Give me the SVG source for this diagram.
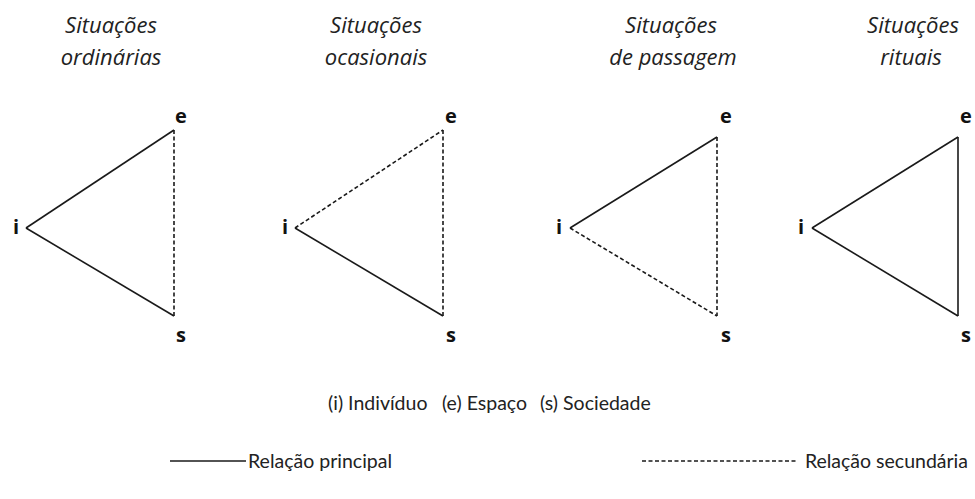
<svg xmlns="http://www.w3.org/2000/svg" width="975" height="499" viewBox="0 0 975 499">
<style>
.title{font-family:"Open Sans","Liberation Sans",sans-serif;font-style:italic;font-size:22px;fill:#222;text-anchor:middle}
.v{font-family:"Open Sans","Liberation Sans",sans-serif;font-weight:bold;font-size:20px;fill:#111;text-anchor:middle}
.leg{font-family:Lato,"Open Sans","Liberation Sans",sans-serif;font-size:19.5px;fill:#222}
.solid{stroke:#1a1a1a;stroke-width:1.6;fill:none}
.dash{stroke:#1a1a1a;stroke-width:1.6;fill:none;stroke-dasharray:4 2.5}
</style>
<rect width="975" height="499" fill="#fff"/>
<g id="titles">
<text class="title" x="111" y="33">Situações</text><text class="title" x="111" y="65">ordinárias</text>
<text class="title" x="376" y="33">Situações</text><text class="title" x="376" y="65">ocasionais</text>
<text class="title" x="671" y="33">Situações</text><text class="title" x="673" y="65">de passagem</text>
<text class="title" x="913" y="33">Situações</text><text class="title" x="911" y="65">rituais</text>
</g>
<g id="node-labels">
<g id="t1-labels"><text class="v" x="16" y="234">i</text><text class="v" x="181" y="123">e</text><text class="v" x="181" y="342">s</text></g>
<g id="t2-labels"><text class="v" x="285" y="234">i</text><text class="v" x="451" y="123">e</text><text class="v" x="451" y="342">s</text></g>
<g id="t3-labels"><text class="v" x="559" y="234">i</text><text class="v" x="726" y="123">e</text><text class="v" x="726" y="342">s</text></g>
<g id="t4-labels"><text class="v" x="801" y="234">i</text><text class="v" x="966" y="123">e</text><text class="v" x="966" y="342">s</text></g>
</g>
<g id="connectors">
<line class="solid" x1="26" y1="228" x2="174" y2="130"/>
<line class="solid" x1="26" y1="228" x2="174" y2="316"/>
<line class="dash" x1="174" y1="130" x2="174" y2="316"/>
<line class="dash" x1="295" y1="228" x2="443" y2="130"/>
<line class="solid" x1="295" y1="228" x2="443" y2="316"/>
<line class="dash" x1="443" y1="130" x2="443" y2="316"/>
<line class="solid" x1="570" y1="228" x2="717" y2="137"/>
<line class="dash" x1="570" y1="228" x2="717" y2="316"/>
<line class="dash" x1="717" y1="137" x2="717" y2="316"/>
<line class="solid" x1="812" y1="228" x2="958" y2="137"/>
<line class="solid" x1="812" y1="228" x2="958" y2="316"/>
<line class="solid" x1="958" y1="137" x2="958" y2="316"/>
</g>
<g id="legend">
<text class="leg" x="328" y="410">(i) Indivíduo</text>
<text class="leg" x="442" y="410">(e) Espaço</text>
<text class="leg" x="540" y="410">(s) Sociedade</text>
<line class="solid" x1="170" y1="461" x2="246" y2="461"/>
<text class="leg" x="248" y="468">Relação principal</text>
<line class="dash" x1="642" y1="461" x2="796" y2="461"/>
<text class="leg" x="968" y="468" text-anchor="end">Relação secundária</text>
</g>
</svg>
